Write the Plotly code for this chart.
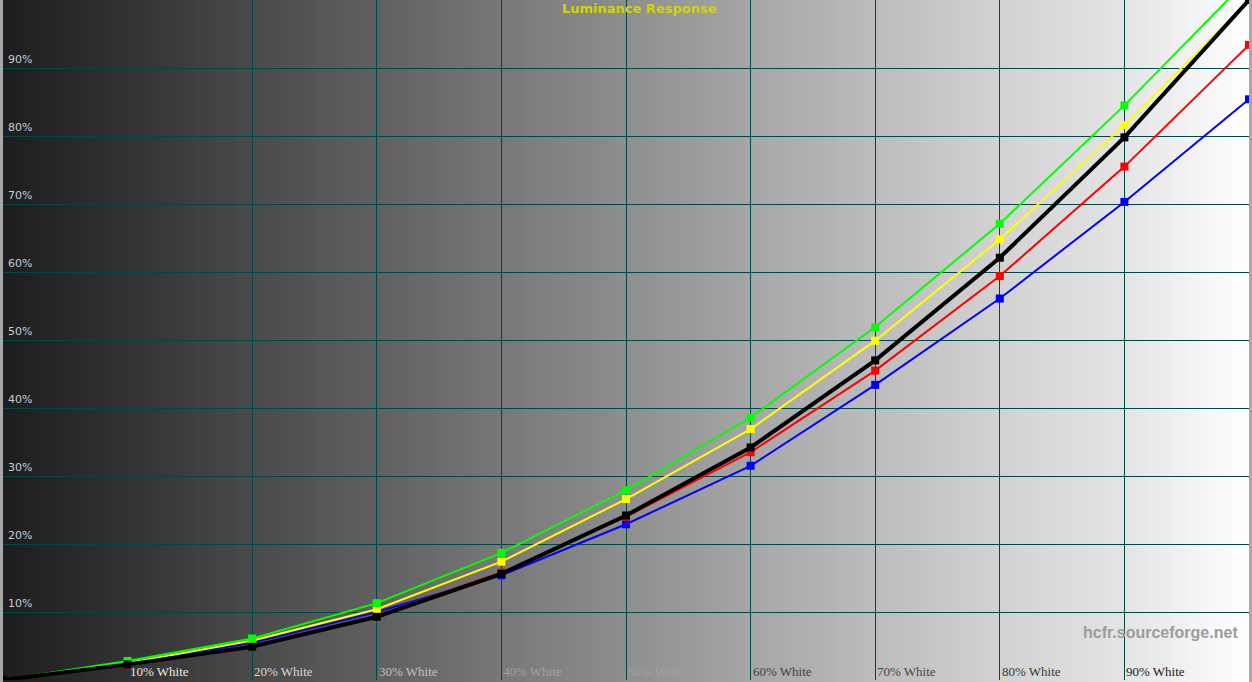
import plotly.graph_objects as go
import numpy as np

# ---- data ----
x_levels = [0, 10, 20, 30, 40, 50, 60, 70, 80, 90, 100]
x_labels = ["", "10% White", "20% White", "30% White", "40% White", "50% White",
            "60% White", "70% White", "80% White", "90% White", ""]
y_ticks = [10, 20, 30, 40, 50, 60, 70, 80, 90]
y_labels = ["10%", "20%", "30%", "40%", "50%", "60%", "70%", "80%", "90%"]

blue_vals = [0, 2.35, 5.5, 10.0, 15.4, 22.9, 31.5, 43.4, 56.1, 70.3, 85.4]
red_vals = [0, 2.3, 5.0, 9.5, 15.8, 24.0, 33.5, 45.5, 59.4, 75.5, 93.4]
yellow_vals = [0, 2.5, 5.8, 10.4, 17.4, 26.6, 36.9, 49.9, 64.8, 81.6, 100.0]
green_vals = [0, 2.8, 6.1, 11.3, 18.7, 27.9, 38.6, 51.9, 67.1, 84.5, 103.2]
black_vals = [0, 2.3, 4.9, 9.3, 15.6, 24.2, 34.2, 47.0, 62.1, 79.8, 100.0]

# ---- styles ----
bg_stops = [(0, 30), (10, 50), (20, 74), (30, 96), (40, 120), (50, 142),
            (60, 166), (70, 188), (80, 210), (90, 228), (100, 255)]
label_colors = ["", "#e6e6e6", "#d6d6d6", "#c0c0c0", "#a2a2a2", "#a0a0a0",
                "#404040", "#484848", "#383838", "#202020", ""]

fig = go.Figure()

shapes = []
# background gradient as overlapping thin rectangles below the gridlines
edges = np.linspace(0, 100, 209)
ps = [s[0] for s in bg_stops]
gs = [s[1] for s in bg_stops]
for a, b in zip(edges[:-1], edges[1:]):
    g = int(round(np.interp((a + b) / 2, ps, gs)))
    shapes.append(dict(type="rect", xref="x", yref="paper", x0=a, x1=min(b + 0.4, 100.5),
                       y0=-0.01, y1=1.01, layer="below", line=dict(width=0),
                       fillcolor=f"rgb({g},{g},{g})"))

series = [
    ("Blue", blue_vals, "#0000ff", 2),
    ("Red", red_vals, "#ff0000", 2),
    ("Yellow", yellow_vals, "#ffff00", 2),
    ("Green", green_vals, "#00ff00", 2),
    ("Reference", black_vals, "#000000", 4),
]
for name, vals, col, w in series:
    fig.add_trace(go.Scatter(
        x=x_levels, y=vals, mode="lines+markers", name=name,
        line=dict(color=col, width=w),
        marker=dict(symbol="square", size=8, color=col),
        cliponaxis=True,
    ))

annotations = []
for v, t in zip(y_ticks, y_labels):
    annotations.append(dict(
        x=0, y=v, xref="x", yref="y", text=t, showarrow=False,
        xanchor="left", yanchor="bottom", xshift=3, yshift=0,
        font=dict(family="DejaVu Sans", size=11, color="#c4ccd4"),
    ))

for v, t, c in zip(x_levels, x_labels, label_colors):
    if not t:
        continue
    annotations.append(dict(
        x=v, y=0, xref="x", yref="y", text=t, showarrow=False,
        xanchor="left", yanchor="bottom", xshift=0, yshift=-1,
        font=dict(family="Liberation Serif", size=13, color=c),
    ))

annotations.append(dict(
    x=0.511, y=1.0, xref="paper", yref="paper", text="<b>Luminance Response</b>",
    showarrow=False, xanchor="center", yanchor="top", yshift=1,
    font=dict(family="DejaVu Sans", size=13, color="#d4d400"),
))
annotations.append(dict(
    x=0.993, y=0.07, xref="paper", yref="paper", text="<b>hcfr.sourceforge.net</b>",
    showarrow=False, xanchor="right", yanchor="middle",
    font=dict(family="Liberation Sans", size=16, color="#9c9c9c"),
))

fig.update_layout(
    width=1252, height=682,
    margin=dict(l=3, r=3, t=0, b=2, pad=0),
    paper_bgcolor="#a8a8a8", plot_bgcolor="#1e1e1e",
    showlegend=False,
    annotations=annotations,
    shapes=shapes,
    xaxis=dict(range=[0, 100], tickvals=list(range(10, 100, 10)), showticklabels=False,
               showgrid=True, gridcolor="#004848", gridwidth=1, zeroline=False,
               showline=False, fixedrange=True),
    yaxis=dict(range=[0, 100], tickvals=y_ticks, showticklabels=False,
               showgrid=True, gridcolor="#004848", gridwidth=1, zeroline=False,
               showline=False, fixedrange=True),
)

fig.write_html("out.html", config={"displayModeBar": False},
               post_script="document.body.style.margin='0px';document.body.style.overflow='hidden';")
